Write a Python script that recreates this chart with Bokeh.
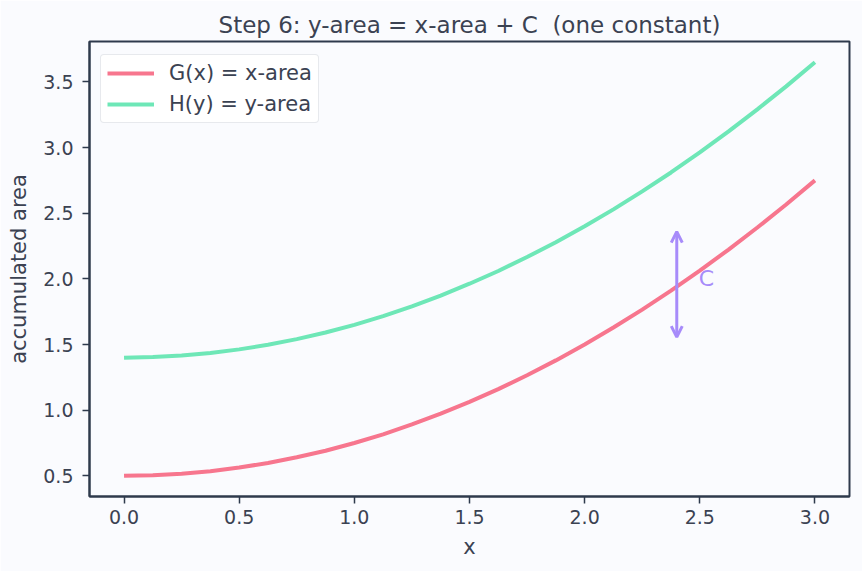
from bokeh.plotting import figure
from bokeh.models import (Range1d, Arrow, OpenHead, Label, Legend, LegendItem,
                          SingleIntervalTicker, ColumnDataSource, NumeralTickFormatter)
from bokeh.embed import file_html
from bokeh.resources import INLINE

# data
x_vals = [0.000, 0.125, 0.250, 0.375, 0.500, 0.625, 0.750, 0.875, 1.000, 1.125, 1.250, 1.375, 1.500,
          1.625, 1.750, 1.875, 2.000, 2.125, 2.250, 2.375, 2.500, 2.625, 2.750, 2.875, 3.000]
g_vals = [0.500, 0.504, 0.516, 0.535, 0.563, 0.598, 0.641, 0.691, 0.750, 0.816, 0.891, 0.973, 1.063,
          1.160, 1.266, 1.379, 1.500, 1.629, 1.766, 1.910, 2.063, 2.223, 2.391, 2.566, 2.750]
h_vals = [1.400, 1.404, 1.416, 1.435, 1.463, 1.498, 1.541, 1.591, 1.650, 1.716, 1.791, 1.873, 1.963,
          2.060, 2.166, 2.279, 2.400, 2.529, 2.666, 2.810, 2.963, 3.123, 3.291, 3.466, 3.650]
series_names = ["G(x) = x-area", "H(y) = y-area"]
arrow_x = 2.4
arrow_y0, arrow_y1 = 1.556, 2.36
c_label = "C"
c_label_x, c_label_y = 2.495, 2.005
title_text = "Step 6: y-area = x-area + C\u00a0\u00a0(one constant)"

FONT = "DejaVu Sans"
TEXT = "#3b4252"
DARK = "#2e3a4c"
BG = "#fafbfe"
RED = "#f7768e"
GREEN = "#6ee7b7"
PURPLE = "#a78bfa"

p = figure(width=862, height=571, output_backend="svg", toolbar_location=None,
           x_range=Range1d(-0.15, 3.15), y_range=Range1d(0.3425, 3.8075),
           background_fill_color=BG, border_fill_color=BG,
           min_border_left=89, min_border_right=13, min_border_top=41, min_border_bottom=75)

p.title.text = title_text
p.title.align = "center"
p.title.text_font = FONT
p.title.text_font_size = "23px"
p.title.text_font_style = "normal"
p.title.text_color = TEXT
p.title.offset = 0
p.title.standoff = 8

p.grid.visible = False
p.outline_line_color = DARK
p.outline_line_width = 2
p.outline_line_alpha = 1

for ax in (p.xaxis[0], p.yaxis[0]):
    ax.axis_line_color = DARK
    ax.axis_line_width = 2
    ax.major_tick_line_color = DARK
    ax.major_tick_line_width = 1.5
    ax.major_tick_in = 0
    ax.major_tick_out = 7
    ax.minor_tick_line_color = None
    ax.major_label_text_font = FONT
    ax.major_label_text_font_size = "19px"
    ax.major_label_text_color = TEXT
    ax.axis_label_text_font = FONT
    ax.axis_label_text_font_size = "21px"
    ax.axis_label_text_font_style = "normal"
    ax.axis_label_text_color = TEXT
    ax.ticker = SingleIntervalTicker(interval=0.5)
    ax.formatter = NumeralTickFormatter(format="0.0")

p.xaxis.axis_label = "x"
p.yaxis.axis_label = "accumulated area"
p.xaxis.major_label_standoff = 6
p.yaxis.major_label_standoff = 9
p.xaxis.axis_label_standoff = 8
p.yaxis.axis_label_standoff = 9

src = ColumnDataSource(dict(x=x_vals, g=g_vals, h=h_vals))
rg = p.line("x", "g", source=src, line_color=RED, line_width=4)
rh = p.line("x", "h", source=src, line_color=GREEN, line_width=4)

p.add_layout(Arrow(x_start=arrow_x, y_start=arrow_y0, x_end=arrow_x, y_end=arrow_y1,
                   line_color=PURPLE, line_width=3,
                   start=OpenHead(size=11, line_color=PURPLE, line_width=3),
                   end=OpenHead(size=11, line_color=PURPLE, line_width=3)))
p.add_layout(Label(x=c_label_x, y=c_label_y, text=c_label, text_font=FONT, text_font_size="22px",
                   text_color=PURPLE, text_baseline="middle", text_align="left"))

legend = Legend(items=[LegendItem(label=series_names[0], renderers=[rg]),
                       LegendItem(label=series_names[1], renderers=[rh])],
                location=(11, 373))
legend.label_text_font = FONT
legend.label_text_font_size = "21px"
legend.label_text_color = TEXT
legend.background_fill_color = "#ffffff"
legend.background_fill_alpha = 0.85
legend.border_line_color = "#d0d4dc"
legend.border_line_width = 1.5
legend.border_radius = 4
legend.glyph_width = 47
legend.glyph_height = 22
legend.label_height = 22
legend.spacing = 7
legend.padding = 6
legend.margin = 0
legend.label_standoff = 15
p.add_layout(legend)

open("out.html", "w").write(file_html(p, INLINE))
